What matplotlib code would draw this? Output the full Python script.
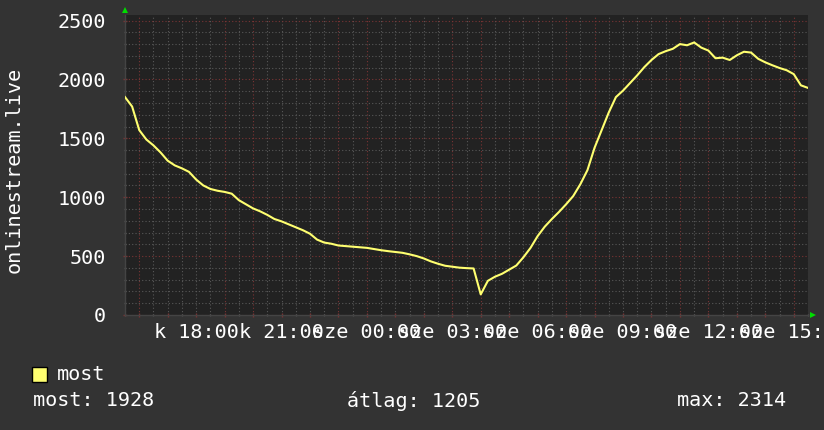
import numpy as np
import pandas as pd
import matplotlib
matplotlib.use("Agg")
import matplotlib.pyplot as plt
import matplotlib.dates as mdates

# 15-minute samples, 15:30 Tuesday -> 15:30 Wednesday
start = "2024-01-02 15:30"
values = [
    1850, 1770, 1570, 1490, 1440, 1380, 1310, 1270, 1245, 1215,
    1150, 1100, 1070, 1055, 1045, 1030, 975, 940, 905, 880,
    850, 815, 795, 770, 745, 720, 690, 640, 615, 605,
    590, 585, 580, 575, 570, 560, 550, 542, 535, 528,
    515, 500, 480, 455, 435, 418, 410, 402, 398, 395,
    175, 290, 325, 350, 385, 420, 490, 570, 670, 750,
    815, 875, 940, 1010, 1110, 1230, 1420, 1570, 1720, 1850,
    1905, 1970, 2035, 2105, 2165, 2215, 2240, 2260, 2300, 2290,
    2314, 2270, 2245, 2180, 2185, 2165, 2205, 2235, 2228, 2175,
    2145, 2120, 2097, 2078, 2045, 1950, 1928,
]
times = pd.date_range(start, periods=len(values), freq="15min")

day_names = {1: "k", 2: "sze"}   # kedd, szerda
ylabel = "onlinestream.live"
legend_name = "most"
stats = [("most", 1928), ("átlag", 1205), ("max", 2314)]

FONT = "DejaVu Sans Mono"
FS = 14.5
BG = "#333333"
CANVAS = "#222222"
LINE = "#ffff70"
GRAY = "#585858"
RED = "#7a3434"
DOT = (0, (1, 2))

fig = plt.figure(figsize=(8.24, 4.30), dpi=100, facecolor=BG)
ax = fig.add_axes([125 / 824, 115 / 430, 683 / 824, 300 / 430])
ax.set_facecolor(CANVAS)

t0 = times[0]
t1 = t0 + pd.Timedelta(hours=24)
ax.set_xlim(t0, t1)
ax.set_ylim(0, 2547)

# vertical grid: gray every 30 min, red on some hours
for t in pd.date_range(t0.ceil("30min"), t1, freq="30min"):
    if t.minute == 0 and t.hour % 4 in (0, 3):
        c = RED
    else:
        c = GRAY
    ax.axvline(t, color=c, lw=0.8, ls=DOT, zorder=0.5)

ax.yaxis.set_major_locator(plt.MultipleLocator(500))
ax.yaxis.set_minor_locator(plt.MultipleLocator(100))
ax.yaxis.grid(True, which="major", color=RED, lw=0.8, ls=DOT)
ax.yaxis.grid(True, which="minor", color=GRAY, lw=0.8, ls=DOT)
ax.set_axisbelow(True)

ax.plot(times, values, color=LINE, lw=1.5, zorder=3)

# x ticks: hourly red marks, labels every 3 h
ax.xaxis.set_major_locator(mdates.HourLocator())
ax.xaxis.set_minor_locator(mdates.MinuteLocator(byminute=[30]))


def fmt(x, pos):
    d = mdates.num2date(x)
    if d.hour % 3 == 0:
        return f"{day_names.get(d.weekday(), '')} {d:%H:%M}"
    return ""


ax.xaxis.set_major_formatter(plt.FuncFormatter(fmt))
ax.tick_params(axis="x", which="major", colors=RED, length=3, width=1,
               direction="inout", pad=4, labelcolor="white")
ax.tick_params(axis="x", which="minor", colors=GRAY, length=2, width=1,
               direction="inout")
ax.tick_params(axis="y", which="major", colors=RED, length=3, width=1,
               direction="inout", pad=12, labelcolor="white")
ax.tick_params(axis="y", which="minor", colors=GRAY, length=2, width=1,
               direction="inout")
for lab in ax.get_xticklabels() + ax.get_yticklabels():
    lab.set_fontfamily(FONT)
    lab.set_fontsize(FS)

for s in ["top", "right"]:
    ax.spines[s].set_visible(False)
for s in ["left", "bottom"]:
    ax.spines[s].set_color("#444444")
    ax.spines[s].set_linewidth(1)

# green axis arrows
ax.plot([0], [1.018], marker="^", color="#00dd00", ms=5, mew=0,
        transform=ax.transAxes, clip_on=False, zorder=5)
ax.plot([1.007], [0], marker=">", color="#00dd00", ms=5, mew=0,
        transform=ax.transAxes, clip_on=False, zorder=5)

fig.text(14 / 824, 1 - 170 / 430, ylabel, rotation=90, color="white",
         family=FONT, fontsize=FS, ha="center", va="center")

# legend
fig.patches.append(plt.Rectangle((32 / 824, 1 - 382 / 430), 15 / 824, 15 / 430,
                                 transform=fig.transFigure, facecolor=LINE,
                                 edgecolor="black", lw=1))
fig.text(57 / 824, 1 - 374 / 430, legend_name, color="white", family=FONT,
         fontsize=FS, va="center")
xs = [33, 347, 677]
for (name, val), x in zip(stats, xs):
    fig.text(x / 824, 1 - 401 / 430, f"{name}: {val}", color="white",
             family=FONT, fontsize=FS, va="center")

fig.savefig("out.png", dpi=100, facecolor=BG)
